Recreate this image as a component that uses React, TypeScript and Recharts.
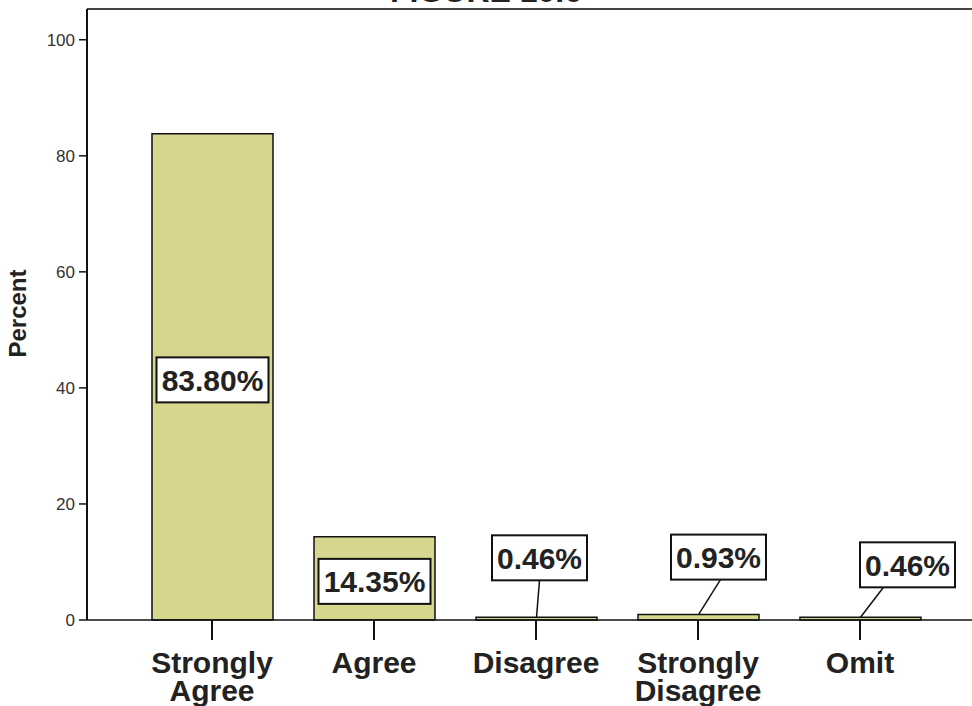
import { BarChart, Bar, XAxis, YAxis, LabelList, ReferenceLine } from "recharts";

const categories = ["Strongly Agree", "Agree", "Disagree", "Strongly Disagree", "Omit"];
const percents = [83.8, 14.35, 0.46, 0.93, 0.46];
const yTicks = [0, 20, 40, 60, 80, 100];
const yMax = 105.3;

const data = categories.map((name, i) => ({ name, percent: percents[i] }));

const FONT = '"Liberation Sans", Arial, Helvetica, sans-serif';

// where the callout boxes for the thin bars sit, relative to the bar
const callout: Record<string, { dx: number; lineDx: number; gap: number }> = {
  Disagree: { dx: 3, lineDx: 3, gap: 37 },
  "Strongly Disagree": { dx: 20, lineDx: 22, gap: 35 },
  Omit: { dx: 47, lineDx: 23, gap: 30 },
};

const CategoryTick = ({ x, y, payload }: any) => {
  const words = String(payload.value).split(" ");
  return (
    <text x={x} y={y} textAnchor="middle" fontFamily={FONT} fontSize={30} fontWeight="bold" fill="#222">
      {words.map((w, i) => (
        <tspan key={w} x={x} dy={i === 0 ? 31 : 28}>
          {w}
        </tspan>
      ))}
    </text>
  );
};

const PercentLabel = (props: any) => {
  const { x, y, width, height, value, index } = props;
  const cx = Number(x) + Number(width) / 2;
  const txt = Number(value).toFixed(2) + "%";
  const w = txt.length > 5 ? 112 : 95;
  const h = 45;
  const box = (bx: number, by: number) => (
    <>
      <rect x={bx - w / 2} y={by} width={w} height={h} fill="#fff" stroke="#111" strokeWidth={2} />
      <text x={bx} y={by + h / 2 + 11} textAnchor="middle" fontFamily={FONT} fontSize={30} fontWeight="bold" fill="#222">
        {txt}
      </text>
    </>
  );
  if (value >= 5) {
    const cy = Number(y) + Number(height) / 2 + 3;
    return <g>{box(cx, cy - h / 2)}</g>;
  }
  const p = callout[categories[index]];
  const bottom = Number(y) - p.gap;
  return (
    <g>
      <line x1={cx + p.lineDx} y1={bottom} x2={cx} y2={Number(y)} stroke="#111" strokeWidth={1.5} />
      {box(cx + p.dx, bottom - h)}
    </g>
  );
};

const PercentAxisLabel = ({ viewBox }: any) => {
  const x = viewBox.x + 16;
  const y = viewBox.y + viewBox.height / 2 - 1;
  return (
    <text x={x} y={y} transform={`rotate(-90 ${x} ${y})`} textAnchor="middle" fontFamily={FONT} fontSize={24} fontWeight="bold" fill="#222">
      Percent
    </text>
  );
};

export default function App() {
  return (
    <div style={{ position: "absolute", left: 0, top: 0, width: 972, height: 706, overflow: "hidden", background: "#fff" }}>
      <svg width={972} height={20} style={{ position: "absolute", left: 0, top: 0 }}>
        <text x={486} y={2} textAnchor="middle" fontFamily={FONT} fontSize={32} fontWeight="bold" fill="#222">
          FIGURE 10.6
        </text>
      </svg>
      <BarChart width={972} height={706} data={data} margin={{ top: 9, right: 0, left: 10, bottom: 0 }} barSize={121}>
        <ReferenceLine y={yMax} stroke="#444" strokeWidth={2} ifOverflow="visible" />
        <XAxis
          dataKey="name"
          height={86}
          padding={{ left: 44, right: 31 }}
          interval={0}
          tickSize={20}
          tickLine={{ stroke: "#111", strokeWidth: 2 }}
          axisLine={{ stroke: "#111", strokeWidth: 1.5 }}
          tick={<CategoryTick />}
        />
        <YAxis
          width={77}
          domain={[0, yMax]}
          ticks={yTicks}
          tickSize={8}
          tickMargin={4}
          tickLine={{ stroke: "#111", strokeWidth: 1.5 }}
          axisLine={{ stroke: "#111", strokeWidth: 2 }}
          tick={{ fontFamily: FONT, fontSize: 17, fill: "#333" }}
          label={<PercentAxisLabel />}
        />
        <Bar dataKey="percent" fill="#d6d68e" stroke="#111" strokeWidth={1.5} isAnimationActive={false}>
          <LabelList dataKey="percent" content={<PercentLabel />} />
        </Bar>
      </BarChart>
    </div>
  );
}
